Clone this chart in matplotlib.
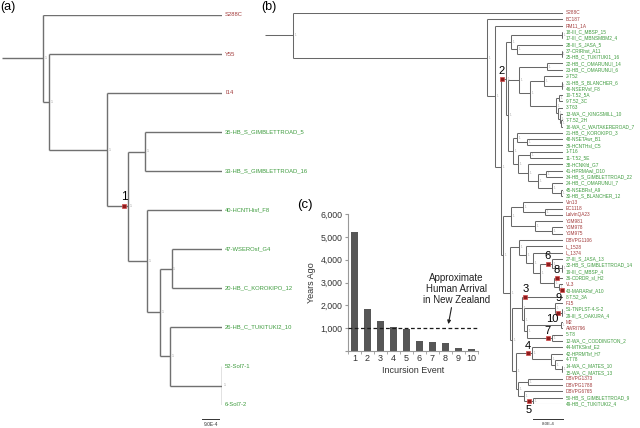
import matplotlib
matplotlib.use('Agg')
import matplotlib.pyplot as plt
from matplotlib.transforms import offset_copy

plt.rcParams['font.family'] = ['Liberation Sans', 'DejaVu Sans']

# ---- tree (a): (node depth, [children]), depth in 1E-4 subs/site, leaves are names
tree_a = (0, ['S288C',
    (3, ['Y55',
        (34, ['I14',
            (45, [(54, ['35-HB_S_GIMBLETTROAD_5', '33-HB_S_GIMBLETTROAD_16']),
                  (55, ['40-HCNTHisf_F8',
                        (62, [(68, ['47-WSEROsf_G4', '20-HB_C_KOROKIPO_12']),
                              (67, ['26-HB_C_TUKITUKI2_10',
                                    (94.5, ['52-Sol7-1', '6-Sol7-2'])])])])])])])])
tip_a = 94.7
stem_a = 21.7
scale_a = 9.0
red_a = ['S288C', 'Y55', 'I14']
marks_a = {'1': ('35-HB_S_GIMBLETTROAD_5', '6-Sol7-2')}

# ---- tree (b), built from its clades
a1 = (58.1, [(71.8, ['18-III_C_MBSP_15', '17-III_C_MBNSMBM2_4']),
             (59.7, ['28-III_S_JASA_5', (71.6, ['37-CRIRhst_A11', '25-HB_C_TUKITUKI1_16'])])])
a2c = (70.1, [(70.9, ['10-T.52_5A', '9-T.52_3C']),
              (70.7, ['3-T63', (71.2, ['13-WA_C_KINGSMILL_10',
                                       (71.5, ['7-T.52_2H', '16-WA_C_WAITAKEREROAD_7'])])])])
a2 = (60.3, [(67.7, ['22-HB_C_OMARUNUI_14', '23-HB_C_OMARUNUI_6']),
             (63.2, [(66.9, ['2-T52', (71.6, ['31-HB_S_BLANCHER_6', '46-NSERVsf_F8'])]),
                     a2c])])
a_bot2 = (62.7, ['38-HCNKfd_G7',
                 (65.3, [(67.5, ['41-HPRMAwl_D10', '34-HB_S_GIMBLETTROAD_22']),
                         (69.1, ['24-HB_C_OMARUNUI_7',
                                 (71.5, ['45-NSEBRsf_A9', '30-HB_S_BLANCHER_12'])])])])
a_bot = (58.7, [(59.7, ['21-HB_C_KOROKIPO_3', (62.4, ['48-NSETAwr_B1', '39-HCNTHsl_C5'])]),
                (60.0, [(63.2, ['1-T16', '11-T.52_5E']), a_bot2])])
a_top = (56.8, [a1, (57.3, [a2, a_bot])])

b1 = (58.1, [(61.3, ['Vin13', (67.2, ['EC1118', 'LalvinQA23'])]),
             (64.5, ['YJM981', (69.1, ['YJM978', 'YJM975'])])])
c_inner = (65.9, [(69.1, ['27-III_S_JASA_13', (71.8, ['32-HB_S_GIMBLETTROAD_14', '19-III_C_MBSP_4'])]),
                  (69.6, ['36-CDRDR_sl_H2', (70.9, ['VL3', '43-MARARsf_A10'])])])
c_clade = (60.3, ['DBVPG1106', (62.1, ['L_1528', (64.0, ['L_1374', c_inner])])])
h_clade = (61.1, ['8-T.52_3A',
                  (61.6, [(69.9, ['F15', (71.8, ['51-TNPLST-4-S-2', '29-III_S_OAKURA_4'])]),
                          (62.4, [(71.5, ['M2', 'AWRI796']),
                                  (69.1, ['5-T8', '12-WA_C_CODDINGTON_2'])])])])
o_top = (63.7, ['44-MTKSksf_E2',
                (68.8, ['42-HPRMTsf_H7',
                        (69.9, ['4-T78', (71.8, ['14-WA_C_MATES_10', '15-WA_C_MATES_13'])])])])
o_bot = (60.0, [(62.7, ['DBVPG1373', 'DBVPG1788']),
                (61.6, ['DBVPG6765', (64.0, ['50-HB_S_GIMBLETTROAD_9', '49-HB_C_TUKITUKI2_4'])])])
o_clade = (59.5, [o_top, o_bot])
b_clade = (56.0, [b1, (57.9, [c_clade, (58.4, [h_clade, o_clade])])])
tree_b = (0, ['S288C', (51.7, ['BC187', (53.9, ['RM11_1A', (55.5, [a_top, b_clade])])])])
tip_b = 72.0
stem_b = 7.5
scale_b = 8.0
red_b = ['S288C', 'BC187', 'RM11_1A', 'Vin13', 'EC1118', 'LalvinQA23', 'YJM981', 'YJM978',
         'YJM975', 'DBVPG1106', 'L_1528', 'L_1374', 'VL3', 'F15', 'M2', 'AWRI796',
         'DBVPG1373', 'DBVPG1788', 'DBVPG6765']
marks_b = {'2': ('18-III_C_MBSP_15', '30-HB_S_BLANCHER_12'),
           '3': ('8-T.52_3A', '8-T.52_3A'),
           '4': ('44-MTKSksf_E2', '15-WA_C_MATES_13'),
           '5': ('50-HB_S_GIMBLETTROAD_9', '49-HB_C_TUKITUKI2_4'),
           '6': ('27-III_S_JASA_13', '19-III_C_MBSP_4'),
           '7': ('5-T8', '12-WA_C_CODDINGTON_2'),
           '8': ('36-CDRDR_sl_H2', '36-CDRDR_sl_H2'),
           '9': ('43-MARARsf_A10', '43-MARARsf_A10'),
           '10': ('51-TNPLST-4-S-2', '29-III_S_OAKURA_4')}

# ---- (c) bar chart
events = list(range(1, 11))
years_ago = [5230, 1820, 1330, 1040, 970, 425, 395, 335, 110, 75]
human_arrival = 1000

RED = '#a23b3b'
GREEN = '#3d9b3d'

fig = plt.figure(figsize=(6.4, 4.28), dpi=100)


def draw_tree(ax, tree, tip, stem, red, lw, lcol, fs, sup_fs):
    leaves = []
    spans = {}

    def walk(node, parent_x):
        if isinstance(node, str):
            y = len(leaves)
            leaves.append(node)
            spans[(node, node)] = (tip, y, parent_x, True)
            return y, node, node
        x, kids = node
        res = [walk(k, x) for k in kids]
        ys = [r[0] for r in res]
        for r, k in zip(res, kids):
            cx = tip if isinstance(k, str) else k[0]
            ax.plot([x, cx], [r[0], r[0]], color=lcol, lw=lw, solid_capstyle='butt')
        ax.plot([x, x], [min(ys), max(ys)], color=lcol, lw=lw, solid_capstyle='butt')
        y = (ys[0] + ys[-1]) / 2
        spans[(res[0][1], res[-1][2])] = (x, y, parent_x, False)
        ax.annotate('1', (x, y), xytext=(1.2, 0), textcoords='offset points',
                    fontsize=sup_fs, color='#9a9a9a', va='center', ha='left')
        return y, res[0][1], res[-1][2]

    root_y = walk(tree, None)[0]
    ax.plot([-stem, 0], [root_y, root_y], color=lcol, lw=lw, solid_capstyle='butt')
    for i, name in enumerate(leaves):
        ax.annotate(name, (tip, i), xytext=(2.2, 0), textcoords='offset points',
                    fontsize=fs, va='center', ha='left',
                    color=RED if name in red else GREEN, annotation_clip=False)
    ax.set_xlim(-stem, tip)
    ax.set_ylim(len(leaves) - 1, 0)
    ax.axis('off')
    return leaves, spans


def draw_marks(ax, spans, marks, offsets, ms, fs):
    for lab, key in marks.items():
        x, y, px, is_leaf = spans[key]
        if is_leaf:
            tr = offset_copy(ax.transData, fig=fig, x=2.2, y=0, units='points')
            mx = px
        else:
            tr = offset_copy(ax.transData, fig=fig, x=-3.0, y=0, units='points')
            mx = x
        ax.plot([mx], [y], marker='s', ms=ms, mfc='#8e1c1c', mec='#d24a4a', mew=0.5,
                transform=tr, clip_on=False, zorder=5)
        dx, dy = offsets.get(lab, (0, 5.5))
        tr2 = offset_copy(tr, fig=fig, x=dx, y=dy, units='points')
        ax.text(mx, y, lab, transform=tr2, fontsize=fs, ha='center', va='center',
                color='black', zorder=6)


# tree (a)
ax_a = fig.add_axes([2 / 640, 1 - 405 / 428, 220 / 640, 390 / 428])
leaves_a, spans_a = draw_tree(ax_a, tree_a, tip_a, stem_a, red_a, 1.0, '#707070', 4.2, 2.6)
draw_marks(ax_a, spans_a, marks_a, {'1': (0, 6.5)}, 3.4, 8.5)
ny = len(leaves_a) - 1
ax_a.plot([tip_a - scale_a - 1.5, tip_a - 1.5], [ny + 0.36, ny + 0.36], color='#333333',
          lw=0.7, clip_on=False)
ax_a.text(tip_a - scale_a / 2 - 1.5, ny + 0.43, '9.0E-4', fontsize=3.5, ha='center',
          va='top', color='#333333')

# tree (b)
ax_b = fig.add_axes([265 / 640, 1 - 404 / 428, 298 / 640, 391 / 428])
leaves_b, spans_b = draw_tree(ax_b, tree_b, tip_b, stem_b, red_b, 0.75, '#686868', 3.4, 2.0)
offs_b = {'5': (0, -6.5), '7': (0, 5.0), '9': (-2.5, -5.5), '10': (-4.5, -4.3)}
draw_marks(ax_b, spans_b, marks_b, offs_b, 3.2, 8.0)
ny = len(leaves_b) - 1
ax_b.plot([tip_b - scale_b, tip_b], [ny + 2.4, ny + 2.4], color='#333333', lw=0.7,
          clip_on=False)
ax_b.text(tip_b - scale_b / 2, ny + 2.9, '8.0E-4', fontsize=3.2, ha='center', va='top',
          color='#333333')

# bar chart (c)
ax_c = fig.add_axes([348 / 640, 1 - 351 / 428, 130 / 640, 137 / 428])
ax_c.bar(events, years_ago, width=0.5, color='#575757', zorder=2)
ax_c.axhline(human_arrival, color='#1a1a1a', lw=0.9, ls=(0, (3, 2)), zorder=3)
ax_c.set_xlim(0.62, 10.45)
ax_c.set_ylim(0, 6000)
ax_c.set_yticks(range(0, 6001, 1000))
ax_c.set_yticklabels([''] + [f'{v:,}' for v in range(1000, 6001, 1000)])
ax_c.set_xticks(events)
ax_c.set_xticks([e + 0.5 for e in [0] + events], minor=True)
ax_c.tick_params(axis='x', which='major', length=0, pad=2.5, labelsize=6.5, colors='#333333')
ax_c.tick_params(axis='x', which='minor', length=2, color='#999999')
ax_c.tick_params(axis='y', length=2, pad=2, labelsize=6.3, color='#999999', labelcolor='#333333')
for s in ['top', 'right']:
    ax_c.spines[s].set_visible(False)
for s in ['left', 'bottom']:
    ax_c.spines[s].set_color('#999999')
    ax_c.spines[s].set_linewidth(0.8)
ax_c.set_ylabel('Years Ago', fontsize=6.5, labelpad=3, color='#333333')
ax_c.set_xlabel('Incursion Event', fontsize=6.5, labelpad=2, color='#333333')
ax_c.text(8.86, 2715, 'Approximate\nHuman Arrival\nin New Zealand', fontsize=7,
          ha='center', va='center', linespacing=1.15, color='#222222')
ax_c.annotate('', xy=(8.18, 1060), xytext=(8.5, 2020),
              arrowprops=dict(arrowstyle='-|>', color='#222222', lw=0.8, mutation_scale=5))

fig.text(0 / 640, 1 - 1 / 428, '(a)', fontsize=9, va='top', ha='left')
fig.text(261 / 640, 1 - 1 / 428, '(b)', fontsize=9, va='top', ha='left')
fig.text(297 / 640, 1 - 199 / 428, '(c)', fontsize=9.5, va='top', ha='left')

fig.savefig('out.png', dpi=100)
